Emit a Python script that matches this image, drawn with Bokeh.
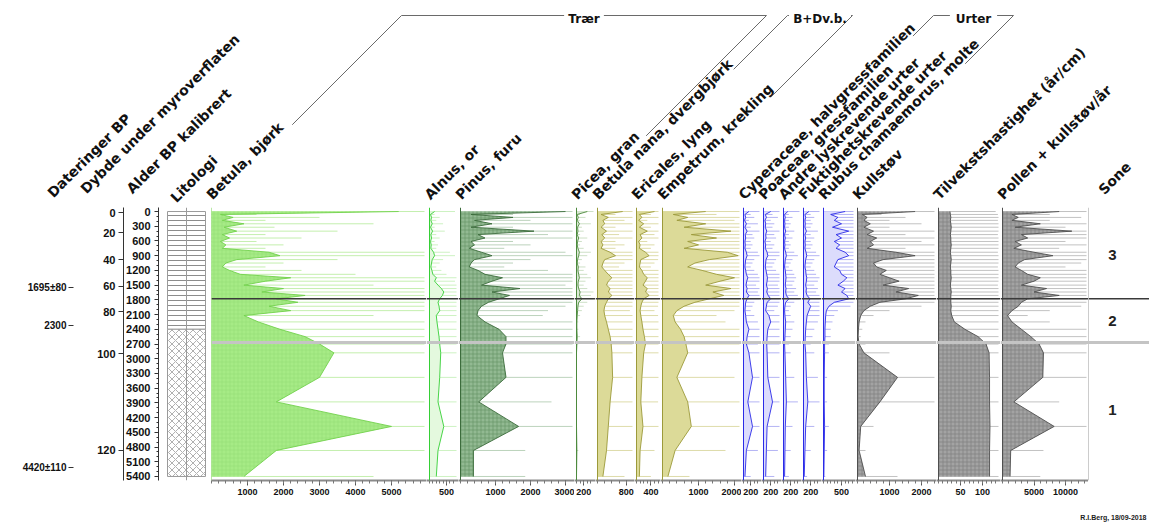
import math
import numpy as np
from bokeh.plotting import figure
from bokeh.layouts import row, column
from bokeh.models import Range1d, FixedTicker, LinearAxis, Span
from bokeh.core.properties import value
from bokeh.embed import file_html
from bokeh.resources import INLINE

FONT = "Liberation Sans"
HFONT = "DejaVu Sans"

# ---------------- data ----------------
ages = [0, 60, 120, 180, 250, 320, 400, 470, 540, 610,
        680, 750, 830, 900, 980, 1050, 1130, 1200, 1280, 1350,
        1420, 1500, 1570, 1640, 1710, 1780, 1850, 1930, 2020, 2120,
        2250, 2400, 2550, 2700, 2880, 3380, 3880, 4380, 4870, 5400]

betula = [5200, 250, 600, 300, 900, 350, 700, 300, 500, 250,
          400, 300, 1600, 1900, 700, 400, 300, 500, 800, 2200,
          1500, 900, 2000, 1400, 2600, 1800, 2400, 1600, 2200, 900,
          1300, 1900, 2600, 3000, 3400, 3000, 1800, 5000, 1800, 900]
alnus = [150, 30, 60, 40, 80, 30, 90, 40, 60, 30,
         50, 40, 120, 150, 80, 60, 40, 70, 100, 200,
         150, 250, 350, 420, 380, 300, 250, 280, 300, 200,
         220, 250, 280, 300, 330, 300, 250, 420, 250, 200]
pinus = [3000, 300, 1500, 400, 900, 300, 2100, 500, 700, 300,
         400, 250, 600, 900, 400, 300, 250, 500, 700, 1200,
         900, 600, 1700, 900, 1400, 1100, 800, 600, 500, 470,
         700, 1100, 1300, 1300, 1200, 1300, 520, 1660, 370, 370]
picea = [300, 20, 50, 20, 80, 30, 40, 20, 60, 30,
         20, 40, 80, 60, 30, 20, 50, 40, 60, 80,
         50, 40, 60, 100, 80, 150, 60, 40, 30, 20,
         10, 10, 20, 10, 0, 0, 0, 0, 10, 0]
betula_nana = [700, 100, 300, 150, 200, 100, 250, 120, 200, 100,
               150, 100, 350, 500, 200, 150, 120, 200, 300, 400,
               300, 250, 350, 300, 400, 300, 250, 200, 180, 200,
               250, 300, 350, 380, 400, 420, 350, 300, 250, 150]
ericales = [500, 80, 150, 60, 200, 80, 300, 100, 150, 60,
            100, 80, 250, 350, 120, 100, 80, 150, 200, 300,
            250, 180, 300, 250, 350, 200, 150, 120, 100, 120,
            150, 180, 220, 250, 200, 150, 120, 180, 100, 80]
empetrum = [1200, 300, 700, 400, 1200, 600, 1900, 800, 1500, 700,
            1000, 600, 1800, 2100, 1300, 900, 700, 1100, 1500, 2000,
            1600, 1200, 1900, 1400, 1700, 1300, 900, 600, 400, 300,
            350, 500, 600, 650, 700, 400, 700, 800, 350, 150]
cyperaceae = [150, 40, 60, 30, 80, 40, 100, 50, 60, 40,
              50, 40, 80, 100, 60, 50, 40, 60, 80, 120,
              90, 70, 100, 80, 150, 100, 60, 50, 40, 60,
              80, 150, 100, 80, 150, 250, 120, 250, 80, 40]
poaceae = [200, 50, 80, 40, 60, 50, 90, 60, 70, 40,
           60, 50, 100, 120, 70, 60, 50, 70, 90, 110,
           100, 80, 110, 90, 130, 200, 100, 80, 60, 150,
           200, 120, 100, 90, 100, 120, 250, 100, 80, 60]
andre_urter = [120, 30, 50, 30, 40, 30, 60, 30, 50, 30,
               40, 30, 60, 80, 50, 40, 30, 50, 60, 70,
               60, 50, 70, 60, 80, 150, 60, 40, 30, 40,
               60, 50, 40, 30, 40, 60, 80, 50, 40, 30]
fukt_urter = [150, 40, 60, 40, 50, 40, 80, 40, 60, 40,
              50, 40, 70, 90, 60, 50, 40, 60, 70, 90,
              80, 60, 80, 70, 100, 180, 120, 200, 150, 100,
              80, 60, 50, 40, 60, 80, 120, 60, 40, 20]
rubus = [600, 200, 400, 300, 500, 250, 700, 350, 500, 300,
         450, 350, 600, 700, 400, 350, 300, 450, 500, 650,
         550, 400, 600, 500, 650, 700, 300, 150, 80, 60,
         50, 40, 40, 30, 30, 20, 20, 30, 20, 10]
kullstov = [1800, 150, 300, 200, 400, 200, 500, 300, 600, 400,
            500, 300, 1200, 1800, 800, 500, 600, 900, 700, 1000,
            1300, 800, 1600, 1200, 1900, 1500, 700, 400, 200, 100,
            50, 30, 20, 50, 200, 1250, 700, 100, 50, 250]
tilvekst = [26, 27, 28, 27, 28, 29, 28, 27, 28, 28,
            29, 28, 27, 28, 29, 28, 27, 28, 28, 29,
            28, 27, 28, 29, 28, 28, 28, 29, 28, 30,
            36, 60, 90, 108, 115, 116, 116, 117, 116, 116]
influx = [9000, 1500, 2500, 1500, 6000, 2000, 11000, 3000, 4000, 2000,
          3000, 1800, 5000, 8000, 3500, 2500, 2000, 3000, 4000, 6000,
          5000, 3000, 7000, 5000, 9000, 4000, 3000, 2500, 1500, 800,
          1500, 3000, 4500, 5800, 6500, 6400, 1800, 8200, 1300, 1200]

age_ticks = [0, 300, 600, 900, 1200, 1500, 1800, 2100, 2400, 2700, 3000,
             3300, 3600, 3900, 4200, 4500, 4800, 5100, 5400]
depth_cm = [0, 20, 40, 60, 80, 100, 120]
depth_age = [20, 428, 978, 1528, 2038, 2894, 4870]
date_labels = ["1695±80", "2300", "4420±110"]
date_age = [1549, 2323, 5217]

lith_names = ["Torv", "Gytje"]
lith_top = [0, 2400]
lith_bottom = [2400, 5400]

zone_names = ["3", "2", "1"]
zone_bounds = [1780, 2670]

group_names = ["Trær", "B+Dv.b.", "Urter"]

# ---------------- layout ----------------
HDR_H = 207
FRAME_H = 273
BOT = 22
y_range = Range1d(5482, -82)

STY = {
    "betula": dict(fill="#a6eb86", line="#73d14d", exag="#c4efae", hatch="cross", hc="#93de73"),
    "alnus": dict(fill="#e4f9de", line="#35cf35", exag="#cdf2c2", hatch=None, hc=None),
    "pinus": dict(fill="#92b992", line="#3c6c3c", exag="#bcd3bc", hatch="cross", hc="#5f8f5f"),
    "picea": dict(fill="#dbe8d5", line="#4d8a3d", exag="#cde0c6", hatch=None, hc=None),
    "olive": dict(fill="#dcda98", line="#9c9a3a", exag="#dedcaa", hatch=None, hc=None),
    "blue": dict(fill="#dcdcfc", line="#2a2ae8", exag="#b4b4f4", hatch=None, hc=None),
    "gray": dict(fill="#a3a3a3", line="#4f4f4f", exag="#c2c2c2", hatch="cross", hc="#777777"),
}

panels = [
    dict(title="Betula, bjørk", vals=betula, fr=(211, 426), z=211, ppu=0.036, ticks=[1000, 2000, 3000, 4000, 5000], mstep=200, st="betula"),
    dict(title="Alnus, or", vals=alnus, fr=(426, 458), z=429, ppu=0.034, ticks=[500], mstep=100, st="alnus"),
    dict(title="Pinus, furu", vals=pinus, fr=(458, 574), z=460, ppu=0.035, ticks=[1000, 2000, 3000], mstep=200, st="pinus"),
    dict(title="Picea, gran", vals=picea, fr=(574, 595), z=576, ppu=0.036, ticks=[200], mstep=100, st="picea"),
    dict(title="Betula nana, dvergbjørk", vals=betula_nana, fr=(595, 634), z=597, ppu=0.036, ticks=[800], mstep=200, st="olive"),
    dict(title="Ericales, lyng", vals=ericales, fr=(634, 660), z=636, ppu=0.036, ticks=[400], mstep=100, st="olive"),
    dict(title="Empetrum, krekling", vals=empetrum, fr=(660, 741), z=662, ppu=0.036, ticks=[1000, 2000], mstep=200, st="olive"),
    dict(title="Cyperaceae, halvgressfamilien", vals=cyperaceae, fr=(741, 761), z=743, ppu=0.036, ticks=[200], mstep=100, st="blue"),
    dict(title="Poaceae, gressfamilien", vals=poaceae, fr=(761, 781), z=763, ppu=0.036, ticks=[200], mstep=100, st="blue"),
    dict(title="Andre lyskrevende urter", vals=andre_urter, fr=(781, 801), z=783, ppu=0.036, ticks=[200], mstep=100, st="blue"),
    dict(title="Fuktighetskrevende urter", vals=fukt_urter, fr=(801, 821), z=803, ppu=0.036, ticks=[200], mstep=100, st="blue"),
    dict(title="Rubus chamaemorus, molte", vals=rubus, fr=(821, 855), z=823, ppu=0.036, ticks=[500], mstep=100, st="blue"),
    dict(title="Kullstøv", vals=kullstov, fr=(855, 936), z=857, ppu=0.032, ticks=[1000, 2000], mstep=200, st="gray"),
    dict(title="Tilvekstshastighet (år/cm)", vals=tilvekst, fr=(936, 1000), z=938, ppu=0.44, ticks=[50, 100], mstep=10, st="gray"),
    dict(title="Pollen + kullstøv/år", vals=influx, fr=(1000, 1088), z=1002, ppu=0.0063, ticks=[5000, 10000], mstep=1000, st="gray"),
]
SONE_FR = (1088, 1149)
EXAG = 5


def base_fig(width, x_range, border_left=0, xaxis=True):
    p = figure(width=width, height=FRAME_H + BOT, x_range=x_range, y_range=y_range,
               output_backend="svg", toolbar_location=None,
               min_border_left=border_left, min_border_right=0, min_border_top=0,
               min_border_bottom=BOT, y_axis_location=None,
               x_axis_location="below" if xaxis else None)
    p.outline_line_color = None
    p.xgrid.grid_line_color = None
    p.ygrid.grid_line_color = None
    p.background_fill_color = "white"
    p.border_fill_color = "white"
    return p


def zone_lines(p):
    p.add_layout(Span(location=zone_bounds[1], dimension="width", line_color="#c4c4c4", line_width=3))
    p.add_layout(Span(location=zone_bounds[0], dimension="width", line_color="#3a3a3a", line_width=1.5))


# ---------------- left column (dates, depth, age, lithology) ----------------
LEFT_FRAME = 158
left = base_fig(211, Range1d(0, 211 - LEFT_FRAME), border_left=LEFT_FRAME, xaxis=False)


def style_axis(ax, size="11px"):
    ax.major_label_text_font = FONT
    ax.major_label_text_font_size = size
    ax.major_label_text_font_style = "bold"
    ax.major_label_text_color = "#111111"
    ax.axis_line_color = "#333333"
    ax.major_tick_line_color = "#333333"
    ax.minor_tick_line_color = "#333333"
    ax.major_tick_in = 0
    ax.minor_tick_in = 0


age_axis = LinearAxis(ticker=FixedTicker(ticks=age_ticks, minor_ticks=list(np.arange(0, 5401, 100))))
style_axis(age_axis)
age_axis.major_tick_out = 4
age_axis.minor_tick_out = 2
age_axis.major_label_standoff = 4
left.add_layout(age_axis, "left")

depth_axis = LinearAxis(ticker=FixedTicker(ticks=depth_age),
                        major_label_overrides={a: str(d) for a, d in zip(depth_age, depth_cm)})
style_axis(depth_axis)
depth_axis.major_tick_out = 5
depth_axis.major_label_standoff = 3
depth_axis.axis_label = " "
depth_axis.axis_label_text_font_size = "12px"
depth_axis.axis_label_standoff = 4
left.add_layout(depth_axis, "left")

dates_axis = LinearAxis(ticker=FixedTicker(ticks=date_age),
                        major_label_overrides={a: s for a, s in zip(date_age, date_labels)})
style_axis(dates_axis, "10px")
dates_axis.axis_line_color = None
dates_axis.major_tick_out = 5
dates_axis.major_label_standoff = 2
left.add_layout(dates_axis, "left")

lith_style = [dict(hatch="horizontal_line", hc="#8c8c8c", scale=5.0),
              dict(hatch="diagonal_cross", hc="#b0b0b0", scale=7.0)]
for i, nm in enumerate(lith_names):
    left.quad(left=9, right=47, top=[lith_top[i]], bottom=[lith_bottom[i]],
              fill_color="white", line_color="#9a9a9a", line_width=1,
              hatch_pattern=lith_style[i]["hatch"], hatch_color=lith_style[i]["hc"],
              hatch_scale=lith_style[i]["scale"], hatch_weight=1)
left.add_layout(Span(location=28, dimension="height", line_color="#9a9a9a", line_width=1))

# ---------------- taxon panels ----------------
figs = [left]
for pn in panels:
    fl, fr = pn["fr"]
    z, ppu = pn["z"], pn["ppu"]
    xr = Range1d((fl - z) / ppu, (fr - z) / ppu)
    p = base_fig(fr - fl, xr)
    s = STY[pn["st"]]
    vmax = (fr - 2 - z) / ppu
    vals = np.array(pn["vals"], dtype=float)
    ex = np.minimum(vals * EXAG, vmax)
    p.segment(x0=0, y0=ages, x1=ex, y1=ages, line_color=s["exag"], line_width=1)
    kw = {}
    if s["hatch"]:
        kw = dict(hatch_pattern=s["hatch"], hatch_color=s["hc"], hatch_scale=4.0, hatch_weight=0.6)
    p.harea(y=ages, x1=0, x2=vals, fill_color=s["fill"], fill_alpha=1.0, **kw)
    p.line(x=vals, y=ages, line_color=s["line"], line_width=0.9)
    p.add_layout(Span(location=0, dimension="height", line_color=s["line"], line_width=1))
    zone_lines(p)
    ax = p.xaxis[0]
    ax.ticker = FixedTicker(ticks=pn["ticks"], minor_ticks=list(np.arange(0, vmax, pn["mstep"])))
    ax.major_label_text_font = FONT
    ax.major_label_text_font_size = "9px"
    ax.major_label_text_font_style = "bold"
    ax.major_label_text_color = "#111111"
    ax.axis_line_color = "#8a8a8a"
    ax.axis_line_width = 2
    ax.major_tick_line_color = "#555555"
    ax.minor_tick_line_color = "#777777"
    ax.major_tick_in = 0
    ax.minor_tick_in = 0
    ax.major_tick_out = 5
    ax.minor_tick_out = 3
    ax.major_label_standoff = 3
    figs.append(p)

# ---------------- zone column ----------------
sone = base_fig(SONE_FR[1] - SONE_FR[0], Range1d(0, SONE_FR[1] - SONE_FR[0]), xaxis=False)
zone_lines(sone)
sone.add_layout(Span(location=0, dimension="height", line_color="#9a9a9a", line_width=1))
edges = [0] + zone_bounds + [5400]
mids = [(edges[i] + edges[i + 1]) / 2 for i in range(len(zone_names))]
sone.text(x=24, y=mids, text=zone_names, text_font=value(FONT), text_font_size="15px",
          text_font_style="bold", text_align="center", text_baseline="middle", text_color="#222222")
figs.append(sone)

# ---------------- header with rotated names ----------------
hdr = figure(width=1149, height=HDR_H, x_range=Range1d(0, 1149), y_range=Range1d(0, HDR_H),
             output_backend="svg", toolbar_location=None, min_border=0,
             x_axis_location=None, y_axis_location=None)
hdr.outline_line_color = None
hdr.xgrid.grid_line_color = None
hdr.ygrid.grid_line_color = None

LBL_FS = 14
CHW = 0.56 * LBL_FS  # approx. bold char width
left_titles = [("Dateringer BP", 55, 200), ("Dybde under myroverflaten", 88, 196),
               ("Alder BP kalibrert", 134, 196), ("Litologi", 178, 205)]
titles = list(left_titles)
for pn in panels:
    titles.append((pn["title"], pn["z"] + 3, 202))
titles.append(("Sone", 1106, 197))

hdr.text(x=[t[1] for t in titles], y=[HDR_H - t[2] for t in titles], text=[t[0] for t in titles],
         angle=math.pi / 4, text_font=value(HFONT), text_font_size=f"{LBL_FS}px",
         text_font_style="bold", text_align="left", text_baseline="bottom", text_color="#111111")

# group brackets
TOPY = 15
C = math.cos(math.pi / 4)
groups = [(group_names[0], 0, 3), (group_names[1], 4, 6), (group_names[2], 7, 11)]
GFS = 12
for gname, i0, i1 in groups:
    ends = []
    corners = []
    for idx in (i0, i1):
        t = titles[len(left_titles) + idx]
        L = len(t[0]) * CHW + 8
        ex_, ey_ = t[1] + L * C, t[2] - L * C
        cx = t[1] + (t[2] - TOPY)
        ends.append((ex_, ey_))
        corners.append(cx)
    center = (corners[0] + corners[1]) / 2
    tw = len(gname) * 0.62 * GFS
    tl, tr = center - tw / 2 - 5, center + tw / 2 + 5
    xs = [[ends[0][0], corners[0], max(tl, corners[0])], [min(tr, corners[1]), corners[1], ends[1][0]]]
    ys = [[HDR_H - ends[0][1], HDR_H - TOPY, HDR_H - TOPY], [HDR_H - TOPY, HDR_H - TOPY, HDR_H - ends[1][1]]]
    hdr.multi_line(xs=xs, ys=ys, line_color="#6a6a6a", line_width=1)
    hdr.text(x=[center], y=[HDR_H - TOPY - 3], text=[gname], text_font=value(HFONT),
             text_font_size=f"{GFS}px", text_font_style="bold", text_align="center",
             text_baseline="middle", text_color="#111111")

# ---------------- footer ----------------
ftr = figure(width=1149, height=527 - HDR_H - FRAME_H - BOT, x_range=Range1d(0, 1149), y_range=Range1d(0, 25),
             output_backend="svg", toolbar_location=None, min_border=0,
             x_axis_location=None, y_axis_location=None)
ftr.outline_line_color = None
ftr.xgrid.grid_line_color = None
ftr.ygrid.grid_line_color = None
ftr.text(x=[1146], y=[10], text=["R.I.Berg, 18/09-2018"], text_font=value(FONT),
         text_font_size="7px", text_font_style="bold", text_align="right", text_baseline="middle",
         text_color="#222222")

layout = column(hdr, row(*figs, spacing=0), ftr, spacing=0)
open("out.html", "w").write(file_html(layout, INLINE))
